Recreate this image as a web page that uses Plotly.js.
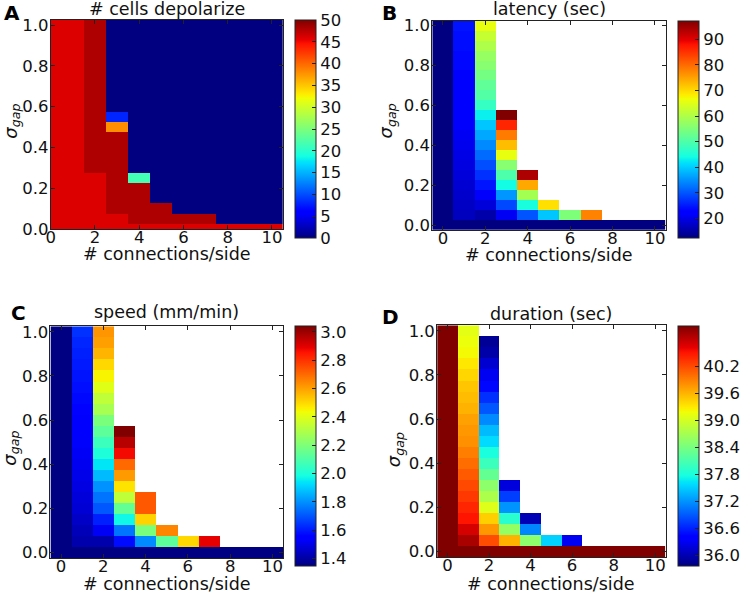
<!DOCTYPE html>
<html>
<head>
<meta charset="utf-8">
<script src="https://cdn.plot.ly/plotly-3.0.1.min.js"></script>
<style>html,body{margin:0;padding:0;background:#fff;}#chart{width:745px;height:594px;}</style>
</head>
<body>
<div id="chart"></div>
<script>
// ---- grid ----
const connections = [0,1,2,3,4,5,6,7,8,9,10];
const sigmaGap = [0,0.05,0.1,0.15,0.2,0.25,0.3,0.35,0.4,0.45,0.5,0.55,0.6,0.65,0.7,0.75,0.8,0.85,0.9,0.95,1.0];
const N = null;

// ---- A: # cells depolarize (one array per column, sigma 0 -> 1) ----
const cellsCol0  = [46,46,46,46,46,46,46,46,46,46,46,46,46,46,46,46,46,46,46,46,46];
const cellsCol1  = [46,46,46,46,46,46,46,46,46,46,46,46,46,46,46,46,46,46,46,46,46];
const cellsCol2  = [46,46,46,46,46,46,48,48,48,48,48,48,48,48,48,48,48,48,48,48,48];
const cellsCol3  = [46,46,48,48,48,48,48,48,48,48,38,8,0,0,0,0,0,0,0,0,0];
const cellsCol4  = [46,48,48,48,48,21.5,0,0,0,0,0,0,0,0,0,0,0,0,0,0,0];
const cellsCol5  = [46,48,48,0,0,0,0,0,0,0,0,0,0,0,0,0,0,0,0,0,0];
const cellsCol6  = [46,48,0,0,0,0,0,0,0,0,0,0,0,0,0,0,0,0,0,0,0];
const cellsCol7  = [46,48,0,0,0,0,0,0,0,0,0,0,0,0,0,0,0,0,0,0,0];
const cellsCol8  = [46,0,0,0,0,0,0,0,0,0,0,0,0,0,0,0,0,0,0,0,0];
const cellsCol9  = [46,0,0,0,0,0,0,0,0,0,0,0,0,0,0,0,0,0,0,0,0];
const cellsCol10 = [46,0,0,0,0,0,0,0,0,0,0,0,0,0,0,0,0,0,0,0,0];

// ---- B: latency (sec) ----
const latCol0  = [12.4,12.4,12.4,12.4,12.4,12.4,12.4,12.4,12.4,12.4,12.4,12.4,12.4,12.4,12.4,12.4,12.4,12.4,12.4,12.4,12.4];
const latCol1  = [12.4,17,17.5,18,18.5,19,19.5,20,20.5,21,21.5,22,22.5,22.5,23,23,23.5,23.5,24,24,24.5];
const latCol2  = [12.4,15.5,19,21.5,24.7,27,29.5,32,34.5,37,39.5,43,47.5,50.5,52,54,56,57.5,60,62.5,66];
const latCol3  = [12.4,21,29,35.5,44,50,56,66,72.7,78.6,86.3,97.3,N,N,N,N,N,N,N,N,N];
const latCol4  = [12.4,30,44.7,59,74.5,94,N,N,N,N,N,N,N,N,N,N,N,N,N,N,N];
const latCol5  = [12.4,39.5,69.5,N,N,N,N,N,N,N,N,N,N,N,N,N,N,N,N,N,N];
const latCol6  = [12.4,55,N,N,N,N,N,N,N,N,N,N,N,N,N,N,N,N,N,N,N];
const latCol7  = [12.4,78,N,N,N,N,N,N,N,N,N,N,N,N,N,N,N,N,N,N,N];
const latCol8  = [12.4,N,N,N,N,N,N,N,N,N,N,N,N,N,N,N,N,N,N,N,N];
const latCol9  = [12.4,N,N,N,N,N,N,N,N,N,N,N,N,N,N,N,N,N,N,N,N];
const latCol10 = [12.4,N,N,N,N,N,N,N,N,N,N,N,N,N,N,N,N,N,N,N,N];

// ---- C: speed (mm/min) ----
const spdCol0  = [1.35,1.35,1.35,1.35,1.35,1.35,1.35,1.35,1.35,1.35,1.35,1.35,1.35,1.35,1.35,1.35,1.35,1.35,1.35,1.35,1.35];
const spdCol1  = [1.35,1.41,1.43,1.45,1.47,1.48,1.49,1.50,1.51,1.52,1.53,1.54,1.55,1.56,1.57,1.58,1.59,1.60,1.61,1.62,1.64];
const spdCol2  = [1.35,1.41,1.52,1.61,1.70,1.75,1.80,1.87,1.94,2.00,2.06,2.13,2.19,2.28,2.33,2.40,2.45,2.50,2.565,2.60,2.62];
const spdCol3  = [1.35,1.575,1.75,1.97,2.14,2.33,2.48,2.61,2.70,2.87,2.96,3.04,N,N,N,N,N,N,N,N,N];
const spdCol4  = [1.35,1.79,2.19,2.51,2.73,2.73,N,N,N,N,N,N,N,N,N,N,N,N,N,N,N];
const spdCol5  = [1.35,2.13,2.65,N,N,N,N,N,N,N,N,N,N,N,N,N,N,N,N,N,N];
const spdCol6  = [1.35,2.50,N,N,N,N,N,N,N,N,N,N,N,N,N,N,N,N,N,N,N];
const spdCol7  = [1.35,2.89,N,N,N,N,N,N,N,N,N,N,N,N,N,N,N,N,N,N,N];
const spdCol8  = [1.35,N,N,N,N,N,N,N,N,N,N,N,N,N,N,N,N,N,N,N,N];
const spdCol9  = [1.35,N,N,N,N,N,N,N,N,N,N,N,N,N,N,N,N,N,N,N,N];
const spdCol10 = [1.35,N,N,N,N,N,N,N,N,N,N,N,N,N,N,N,N,N,N,N,N];

// ---- D: duration (sec) ----
const durCol0  = [41.09,41.09,41.09,41.09,41.09,41.09,41.09,41.09,41.09,41.09,41.09,41.09,41.09,41.09,41.09,41.09,41.09,41.09,41.09,41.09,41.09];
const durCol1  = [41.09,40.9,40.7,40.5,40.4,40.3,40.2,40.1,40.0,39.9,39.8,39.75,39.7,39.6,39.55,39.5,39.4,39.3,39.2,39.15,39.1];
const durCol2  = [41.09,40.18,39.76,39.44,39.06,38.74,38.53,38.27,38.0,37.79,37.57,37.41,37.15,36.88,36.67,36.45,36.29,36.13,35.95,35.86,N];
const durCol3  = [41.09,39.6,38.58,37.89,37.2,36.75,36.19,N,N,N,N,N,N,N,N,N,N,N,N,N,N];
const durCol4  = [41.09,38.53,37.12,36.0,N,N,N,N,N,N,N,N,N,N,N,N,N,N,N,N,N];
const durCol5  = [41.09,37.52,N,N,N,N,N,N,N,N,N,N,N,N,N,N,N,N,N,N,N];
const durCol6  = [41.09,36.29,N,N,N,N,N,N,N,N,N,N,N,N,N,N,N,N,N,N,N];
const durCol7  = [41.09,N,N,N,N,N,N,N,N,N,N,N,N,N,N,N,N,N,N,N,N];
const durCol8  = [41.09,N,N,N,N,N,N,N,N,N,N,N,N,N,N,N,N,N,N,N,N];
const durCol9  = [41.09,N,N,N,N,N,N,N,N,N,N,N,N,N,N,N,N,N,N,N,N];
const durCol10 = [41.09,N,N,N,N,N,N,N,N,N,N,N,N,N,N,N,N,N,N,N,N];

const cellsCols = [cellsCol0,cellsCol1,cellsCol2,cellsCol3,cellsCol4,cellsCol5,cellsCol6,cellsCol7,cellsCol8,cellsCol9,cellsCol10];
const latCols = [latCol0,latCol1,latCol2,latCol3,latCol4,latCol5,latCol6,latCol7,latCol8,latCol9,latCol10];
const spdCols = [spdCol0,spdCol1,spdCol2,spdCol3,spdCol4,spdCol5,spdCol6,spdCol7,spdCol8,spdCol9,spdCol10];
const durCols = [durCol0,durCol1,durCol2,durCol3,durCol4,durCol5,durCol6,durCol7,durCol8,durCol9,durCol10];

const panelTitles = ['# cells depolarize','latency (sec)','speed (mm/min)','duration (sec)'];
const panelLetters = ['A','B','C','D'];
const zRanges = [[0,50],[12.4,97.3],[1.346,3.04],[35.76,41.09]];
const xTickVals = [0,2,4,6,8,10];
const xTickText = ['0','2','4','6','8','10'];
const yTickVals = [0,0.2,0.4,0.6,0.8,1.0];
const yTickText = ['0.0','0.2','0.4','0.6','0.8','1.0'];
const cbTickVals = [
  [0,5,10,15,20,25,30,35,40,45,50],
  [20,30,40,50,60,70,80,90],
  [1.4,1.6,1.8,2.0,2.2,2.4,2.6,2.8,3.0],
  [36.0,36.6,37.2,37.8,38.4,39.0,39.6,40.2]
];
const cbTickText = [
  ['0','5','10','15','20','25','30','35','40','45','50'],
  ['20','30','40','50','60','70','80','90'],
  ['1.4','1.6','1.8','2.0','2.2','2.4','2.6','2.8','3.0'],
  ['36.0','36.6','37.2','37.8','38.4','39.0','39.6','40.2']
];

// ---- matplotlib jet colormap ----
function jetColor(t){
  const lerp=(pts)=>{for(let i=0;i<pts.length-1;i++){const a=pts[i],b=pts[i+1];if(t<=b[0]){return a[1]+(b[1]-a[1])*(t-a[0])/(b[0]-a[0]);}}return pts[pts.length-1][1];};
  const r=lerp([[0,0],[0.35,0],[0.66,1],[0.89,1],[1,0.5]]);
  const g=lerp([[0,0],[0.125,0],[0.375,1],[0.64,1],[0.91,0],[1,0]]);
  const b=lerp([[0,0.5],[0.11,1],[0.34,1],[0.65,0],[1,0]]);
  return 'rgb('+Math.round(r*255)+','+Math.round(g*255)+','+Math.round(b*255)+')';
}
const jet=[0,0.11,0.125,0.34,0.35,0.375,0.64,0.65,0.66,0.89,0.91,1].map(t=>[t,jetColor(t)]);

function toRows(cols){return sigmaGap.map((_,r)=>cols.map(c=>c[r]));}

const W=745,H=594;
const px=x=>x/W, py=y=>1-y/H;

const FONT='DejaVu Sans';
const TICK=16.5, LAB=17.5;
const cbDefs=[
  {x:302.5,top:20,bot:238},
  {x:694.5,top:20.7,bot:237.7},
  {x:302.5,top:326.3,bot:566.3},
  {x:694.5,top:326,bot:566}
];
const allCols=[cellsCols,latCols,spdCols,durCols];
const data=allCols.map((cols,i)=>{
  const cb=cbDefs[i];
  return {
    type:'heatmap', x:connections, y:sigmaGap, z:toRows(cols),
    xaxis:'x'+(i===0?'':i+1), yaxis:'y'+(i===0?'':i+1),
    colorscale:jet, zmin:zRanges[i][0], zmax:zRanges[i][1], hoverinfo:'skip',
    colorbar:{x:px(cb.x), xanchor:'left', xpad:0, ypad:0, thickness:21, thicknessmode:'pixels',
      len:(cb.bot-cb.top)/H, lenmode:'fraction', y:py((cb.top+cb.bot)/2), yanchor:'middle',
      outlinewidth:1, outlinecolor:'#222', tickmode:'array', tickvals:cbTickVals[i], ticktext:cbTickText[i],
      ticks:'inside', ticklen:4, tickcolor:'#222', ticklabelstandoff:1,
      tickfont:{family:FONT,size:TICK,color:'#111'}}
  };
});

const boxes=[
  {l:52,r:290,t:20,b:229,xr:[0,10.5],yr:[0,1.025]},
  {l:443,r:682,t:20.7,b:230,xr:[-0.5,10.5],yr:[-0.025,1.025]},
  {l:51.7,r:290,t:326.3,b:558,xr:[-0.5,10.5],yr:[-0.025,1.025]},
  {l:448,r:682,t:325.3,b:557,xr:[-0.5,10.5],yr:[-0.025,1.025]}
];
const layout={width:W,height:H,margin:{l:0,r:0,t:0,b:0},paper_bgcolor:'#fff',plot_bgcolor:'#fff',
  font:{family:FONT,size:TICK,color:'#111'},showlegend:false,annotations:[]};
const axCommon={showline:true,mirror:'ticks',linecolor:'#222',linewidth:1,ticks:'inside',ticklen:4,
  tickcolor:'#222',showgrid:false,zeroline:false,fixedrange:true,tickfont:{family:FONT,size:TICK,color:'#111'}};
boxes.forEach((b,i)=>{
  const s=i===0?'':String(i+1);
  layout['xaxis'+s]=Object.assign({},axCommon,{domain:[px(b.l),px(b.r)],range:b.xr,anchor:'y'+s,
    tickmode:'array',tickvals:xTickVals,ticktext:xTickText,ticklabelstandoff:-7});
  layout['yaxis'+s]=Object.assign({},axCommon,{domain:[py(b.b),py(b.t)],range:b.yr,anchor:'x'+s,
    tickmode:'array',tickvals:yTickVals,ticktext:yTickText,ticklabelstandoff:-2});
});

const titlePos=[[171,9],[563,9],[171,312],[565,314]];
const letterPos=[[12,13],[399,13],[19,313],[400,317]];
const xtitlePos=[[171,254],[563,255],[171,584],[565,584]];
const ytitlePos=[[12,121],[397,121],[11,448],[405,450]];
for(let i=0;i<4;i++){
  layout.annotations.push({text:panelTitles[i],x:px(titlePos[i][0]),y:py(titlePos[i][1]),xref:'paper',yref:'paper',
    xanchor:'center',yanchor:'middle',showarrow:false,font:{family:FONT,size:LAB,color:'#111'}});
  layout.annotations.push({text:'<b>'+panelLetters[i]+'</b>',x:px(letterPos[i][0]),y:py(letterPos[i][1]),xref:'paper',yref:'paper',
    xanchor:'center',yanchor:'middle',showarrow:false,font:{family:FONT,size:20,color:'#000'}});
  layout.annotations.push({text:'# connections/side',x:px(xtitlePos[i][0]),y:py(xtitlePos[i][1]),xref:'paper',yref:'paper',
    xanchor:'center',yanchor:'middle',showarrow:false,font:{family:FONT,size:LAB,color:'#111'}});
  layout.annotations.push({text:'<i>σ</i><sub><i>gap</i></sub>',x:px(ytitlePos[i][0]),y:py(ytitlePos[i][1]),xref:'paper',yref:'paper',
    xanchor:'center',yanchor:'middle',textangle:-90,showarrow:false,font:{family:FONT,size:18,color:'#111'}});
}

Plotly.newPlot('chart',data,layout,{staticPlot:true,displayModeBar:false});
</script>
</body>
</html>
